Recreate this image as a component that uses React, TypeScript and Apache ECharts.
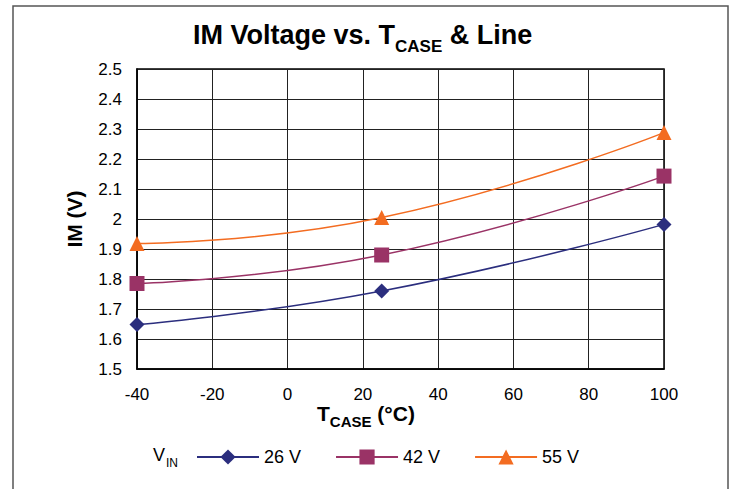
import React, { useEffect, useRef } from "react";
import * as echarts from "echarts";

const temps = [-40, 25, 100];
const v26 = [1.648, 1.76, 1.982];
const v42 = [1.785, 1.88, 2.143];
const v55 = [1.918, 2.005, 2.288];
const seriesNames = ["26 V", "42 V", "55 V"];
const colors = ["#2B2E7E", "#9A3366", "#F36C21"];
const symbols = ["diamond", "rect", "triangle"];

const FONT = "Arial, 'Liberation Sans', Helvetica, sans-serif";

export default function App() {
  const ref = useRef<HTMLDivElement>(null);
  useEffect(() => {
    if (!ref.current) return;
    const chart = echarts.init(ref.current, undefined, { renderer: "svg" });
    const seriesData = [v26, v42, v55];
    chart.setOption({
      animation: false,
      backgroundColor: "#fff",
      textStyle: { fontFamily: FONT },
      title: [
        {
          left: 193,
          top: 21,
          padding: 0,
          text: "{a|IM Voltage vs. T}{b|CASE}{a| & Line}",
          textStyle: {
            rich: {
              a: { fontSize: 27, fontWeight: "bold", fontFamily: FONT, color: "#000", lineHeight: 31, verticalAlign: "top" },
              b: { fontSize: 17, fontWeight: "bold", fontFamily: FONT, color: "#000", lineHeight: 17, padding: [17, 0, 0, 0], verticalAlign: "top" },
            },
          },
        },
        {
          left: 317,
          top: 403,
          padding: 0,
          text: "{a|T}{b|CASE}{a| (°C)}",
          textStyle: {
            rich: {
              a: { fontSize: 21, fontWeight: "bold", fontFamily: FONT, color: "#000", lineHeight: 24, verticalAlign: "top" },
              b: { fontSize: 15, fontWeight: "bold", fontFamily: FONT, color: "#000", lineHeight: 15, padding: [11, 0, 0, 0], verticalAlign: "top" },
            },
          },
        },
      ],
      grid: {
        left: 137,
        top: 69,
        right: 73,
        bottom: 120,
        show: true,
        borderColor: "#000",
        borderWidth: 1.5,
        backgroundColor: "transparent",
      },
      legend: {
        left: 196,
        top: 448,
        itemWidth: 62,
        itemHeight: 19,
        itemGap: 34,
        padding: 0,
        data: seriesNames,
        textStyle: { fontSize: 18, color: "#000", fontFamily: FONT },
      },
      xAxis: {
        type: "value",
        min: -40,
        max: 100,
        interval: 20,
        axisLine: { show: true, onZero: false, lineStyle: { color: "#000", width: 1.5 } },
        axisTick: { show: false },
        axisLabel: { fontSize: 17, color: "#000", margin: 17, fontFamily: FONT },
        splitLine: { show: true, lineStyle: { color: "#222", width: 1 } },
      },
      yAxis: {
        type: "value",
        min: 1.5,
        max: 2.5,
        interval: 0.1,
        name: "IM (V)",
        nameLocation: "middle",
        nameRotate: 90,
        nameGap: 52,
        nameTextStyle: { fontSize: 21, fontWeight: "bold", color: "#000", fontFamily: FONT },
        axisLine: { show: true, onZero: false, lineStyle: { color: "#000", width: 1.5 } },
        axisTick: { show: false },
        axisLabel: {
          fontSize: 17,
          color: "#000",
          margin: 15,
          fontFamily: FONT,
          formatter: (v: number) => String(Math.round(v * 10) / 10),
        },
        splitLine: { show: true, lineStyle: { color: "#222", width: 1 } },
      },
      graphic: [
        {
          type: "rect",
          shape: { x: 13, y: 6, width: 715, height: 520 },
          style: { fill: "none", stroke: "#555", lineWidth: 1.5 },
          silent: true,
        },
        {
          type: "text",
          x: 153,
          y: 464,
          style: { text: "V", fontSize: 18, fontFamily: FONT, fill: "#000", textVerticalAlign: "bottom" },
        },
        {
          type: "text",
          x: 166,
          y: 469,
          style: { text: "IN", fontSize: 12, fontFamily: FONT, fill: "#000", textVerticalAlign: "bottom" },
        },
      ],
      series: seriesNames.map((name, i) => ({
        name,
        type: "line",
        smooth: 0.5,
        data: temps.map((t, j) => [t, seriesData[i][j]]),
        symbol: symbols[i],
        symbolSize: 15,
        lineStyle: { color: colors[i], width: 1.5 },
        itemStyle: { color: colors[i] },
        z: 3 - i + 2,
      })),
    });
    return () => chart.dispose();
  }, []);
  return (
    <div
      ref={ref}
      style={{ position: "absolute", left: 0, top: 0, width: 737, height: 489 }}
    />
  );
}
